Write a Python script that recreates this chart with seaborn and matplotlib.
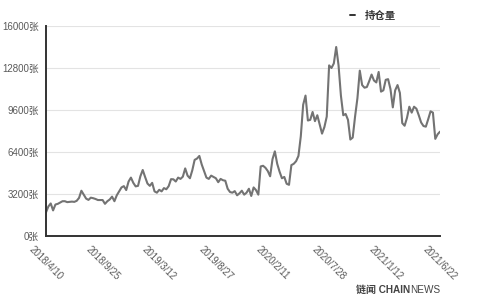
import matplotlib
matplotlib.use("Agg")
import matplotlib.pyplot as plt
from matplotlib.lines import Line2D
import seaborn as sns
import pandas as pd
import numpy as np

# weekly open-interest values (张), 2018/4/10 .. 2021/6/22
holdings = [
    1800, 2250, 2480, 1950, 2400, 2450, 2550, 2650, 2650, 2580,
    2600, 2620, 2600, 2680, 2900, 3450, 3150, 2850, 2750, 2920,
    2880, 2820, 2740, 2740, 2740, 2450, 2650, 2780, 3000, 2650,
    3100, 3400, 3700, 3800, 3500, 4150, 4450, 4050, 3780, 3820,
    4550, 5030, 4500, 4000, 3820, 4050, 3400, 3300, 3520, 3400,
    3650, 3560, 3800, 4330, 4320, 4150, 4450, 4350, 4520, 5150,
    4600, 4400, 5000, 5800, 5900, 6100, 5450, 4950, 4450, 4350,
    4600, 4500, 4400, 4100, 4350, 4250, 4210, 3600, 3350, 3300,
    3420, 3100, 3250, 3450, 3150, 3300, 3600, 3050, 3700, 3500,
    3150, 5300, 5350, 5200, 4950, 4550, 5850, 6450, 5500, 4900,
    4400, 4500, 3980, 3900, 5400, 5500, 5700, 6100, 7600, 10000,
    10700, 8800, 8850, 9450, 8750, 9200, 8500, 7800, 8300, 9100,
    13000, 12800, 13150, 14400, 13000, 10700, 9200, 9300, 8850, 7350,
    7500, 9100, 10500, 12600, 11500, 11300, 11350, 11800, 12300, 11850,
    11700, 12500, 11000, 11100, 11900, 11950, 11200, 9800, 11100, 11500,
    10900, 8600, 8400, 9000, 9850, 9400, 9850, 9700, 9200, 8650,
    8380, 8330, 8900, 9500, 9400, 7400, 7750, 7950,
]
dates = pd.date_range("2018-04-10", periods=len(holdings), freq="7D")
tick_labels = ["2018/4/10", "2018/9/25", "2019/3/12", "2019/8/27",
               "2020/2/11", "2020/7/28", "2021/1/12", "2021/6/22"]
y_ticks = [0, 3200, 6400, 9600, 12800, 16000]
series_name = "持仓量"

df = pd.DataFrame({"idx": np.arange(len(holdings)), "date": dates, "value": holdings})

sns.set_theme(style="white")
plt.rcParams["font.family"] = ["Liberation Sans", "Noto Sans CJK SC", "DejaVu Sans"]

fig = plt.figure(figsize=(4.8, 3.0), dpi=100)
ax = fig.add_axes([46/480, 1-236/300, (440-46)/480, (236-26)/300])

sns.lineplot(data=df, x="idx", y="value", ax=ax, color="#737373", linewidth=1.5)

ax.set_xlim(0, len(holdings)-1)
ax.set_ylim(0, 16000)
ax.set_yticks(y_ticks)
ax.set_yticklabels([f"{v}张" for v in y_ticks])
label_dates = [pd.Timestamp(s.replace("/", "-")) for s in tick_labels]
tick_pos = [int(df.index[df["date"] == d][0]) for d in label_dates]
ax.set_xticks(tick_pos)
ax.set_xticklabels(tick_labels, rotation=-45)
ax.tick_params(axis="x", length=0, pad=6, labelsize=7, colors="#5a5a5a")
ax.tick_params(axis="y", length=0, pad=5, labelsize=7, colors="#5a5a5a")
ax.set_xlabel("")
ax.set_ylabel("")

for v in y_ticks[1:]:
    ax.axhline(v, color="#e3e3e3", linewidth=0.8, zorder=0)

for side in ["top", "right"]:
    ax.spines[side].set_visible(False)
for side in ["left", "bottom"]:
    ax.spines[side].set_color("#333333")
    ax.spines[side].set_linewidth(1.4)

handle = Line2D([0], [0], color="#333333", linewidth=1.4)
leg = ax.legend([handle], [series_name], loc="center",
                bbox_to_anchor=(373/480, 1-16/300), bbox_transform=fig.transFigure,
                frameon=False, handlelength=0.5, handletextpad=0.9,
                prop={"weight": "bold", "size": 7.5})
for t in leg.get_texts():
    t.set_color("#333333")

fig.text(410/480, 1-290/300, "链闻 CHAIN", ha="right", va="center",
         fontsize=7.2, weight="bold", color="#444444")
fig.text(410/480, 1-290/300, "NEWS", ha="left", va="center",
         fontsize=7.2, color="#444444")

fig.savefig("out.png", dpi=100)
